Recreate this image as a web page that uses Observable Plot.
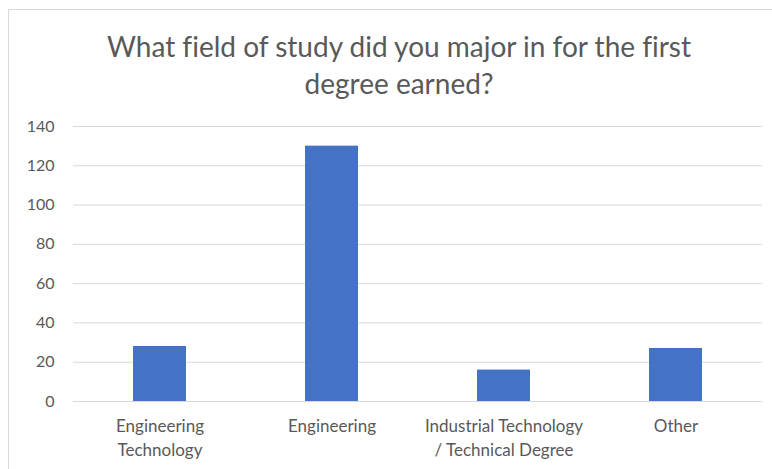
<!DOCTYPE html>
<html>
<head>
<meta charset="utf-8">
<script src="https://cdn.jsdelivr.net/npm/d3@7"></script>
<script src="https://cdn.jsdelivr.net/npm/@observablehq/plot@0.6"></script>
<style>
  html, body { margin: 0; padding: 0; background: #fff; width: 772px; height: 469px; overflow: hidden; }
  #frame { position: absolute; left: 8px; top: 9px; width: 790px; height: 520px; border: 1px solid #d9d9d9; box-sizing: border-box; }
  #title { position: absolute; left: 0; top: 28px; width: 798px; text-align: center; font-family: Lato, sans-serif; font-size: 28px; line-height: 37px; color: #595959; font-variant-ligatures: none; }
  #chart { position: absolute; left: 0; top: 105px; }
</style>
</head>
<body>
<div id="frame"></div>
<div id="title">What field of study did you major in for the first<br>degree earned?</div>
<div id="chart"></div>
<script>
const categories = ["Engineering\nTechnology", "Engineering", "Industrial Technology\n/ Technical Degree", "Other"];
const counts = [28, 130, 16, 27];
const yTicks = [0, 20, 40, 60, 80, 100, 120, 140];

const data = categories.map((c, i) => ({category: c, count: counts[i]}));

const plot = Plot.plot({
  width: 772,
  height: 364,
  marginLeft: 73,
  marginRight: 10,
  marginTop: 21,
  marginBottom: 68,
  style: {fontFamily: "Lato, sans-serif", fontSize: "16px", color: "#595959", background: "transparent"},
  x: {domain: categories, paddingInner: 0.69, paddingOuter: 0.345, label: null},
  y: {domain: [0, 140], ticks: yTicks, label: null},
  marks: [
    Plot.gridY(yTicks, {stroke: "#d9d9d9", strokeOpacity: 1, strokeWidth: 1}),
    Plot.barY(data, {x: "category", y: "count", fill: "#4472c4"}),
    Plot.axisY(yTicks, {tickSize: 0, tickPadding: 19, fontSize: 16, fill: "#595959"}),
    Plot.axisX({tickSize: 0, tickPadding: 14, fontSize: 17, fill: "#595959", lineHeight: 1.4})
  ]
});
document.getElementById("chart").appendChild(plot);
</script>
</body>
</html>
